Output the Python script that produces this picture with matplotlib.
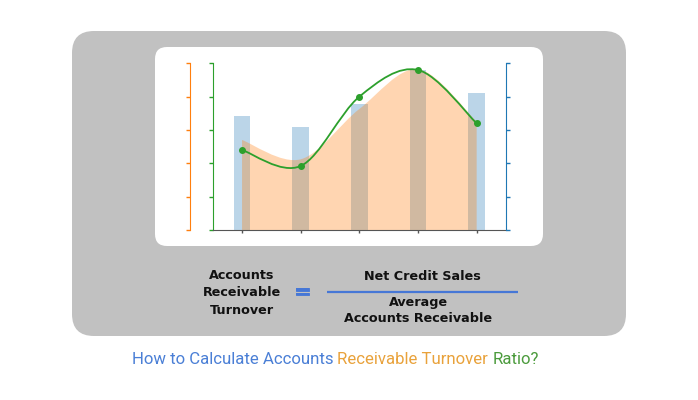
import matplotlib
matplotlib.use("Agg")
import matplotlib.pyplot as plt
import matplotlib.patheffects as pe
from matplotlib.path import Path
from matplotlib.patches import PathPatch, FancyBboxPatch

# data (y axis 0..5)
cats = [0, 1, 2, 3, 4]
bar_vals = [3.42, 3.08, 3.78, 4.80, 4.12]
line_vals = [2.40, 1.92, 4.00, 4.80, 3.20]
area_vals = [2.70, 2.12, 3.63, 4.82, 3.25]
y_ticks = [0, 1, 2, 3, 4, 5]

left_lines = ["Accounts", "Receivable", "Turnover"]
num_text = "Net Credit Sales"
den_lines = ["Average", "Accounts Receivable"]
title_parts = ["How to Calculate Accounts ", "Receivable Turnover ", "Ratio?"]
title_colors = ["#4a7fd6", "#e9a23b", "#4b9b3c"]


def smooth_verts(xs, ys):
    # catmull-rom through the points, as cubic bezier control points
    pts = list(zip(xs, ys))
    p = [pts[0]] + pts + [pts[-1]]
    verts = [pts[0]]
    for i in range(1, len(p) - 2):
        x0, y0 = p[i - 1]
        x1, y1 = p[i]
        x2, y2 = p[i + 1]
        x3, y3 = p[i + 2]
        verts += [(x1 + (x2 - x0) / 6, y1 + (y2 - y0) / 6),
                  (x2 - (x3 - x1) / 6, y2 - (y3 - y1) / 6),
                  (x2, y2)]
    return verts


fig = plt.figure(figsize=(6.98, 4.0), dpi=100)

# background in pixel coords
bg = fig.add_axes([0, 0, 1, 1])
bg.set_xlim(0, 698)
bg.set_ylim(400, 0)
bg.axis("off")
bg.add_patch(FancyBboxPatch((72, 31), 554, 305, boxstyle="round,pad=0,rounding_size=22",
                            fc="#c1c1c1", ec="none"))
bg.add_patch(FancyBboxPatch((155, 47), 388, 199, boxstyle="round,pad=0,rounding_size=12",
                            fc="white", ec="none"))

# chart
ax = fig.add_axes([212.7 / 698, 170 / 400, 293.3 / 698, 166.7 / 400])
ax.patch.set_alpha(0)
ax.bar(cats, bar_vals, width=0.28, color="#1f77b4", alpha=0.3, zorder=1)

sv = smooth_verts(cats, area_vals)
n3 = len(sv) - 1
fill_path = Path([(cats[0], 0)] + sv + [(cats[-1], 0), (cats[0], 0)],
                 [Path.MOVETO, Path.LINETO] + [Path.CURVE4] * n3 + [Path.LINETO, Path.CLOSEPOLY])
ax.add_patch(PathPatch(fill_path, fc="#ff7f0e", ec="none", alpha=0.32, zorder=2))

lv = smooth_verts(cats, line_vals)
line_path = Path(lv, [Path.MOVETO] + [Path.CURVE4] * (len(lv) - 1))
ax.add_patch(PathPatch(line_path, fc="none", ec="#2ca02c", lw=1.3, zorder=3))
ax.plot(cats, line_vals, "o", color="#2ca02c", ms=4, zorder=4)

ax.set_xlim(-0.5, 4.5)
ax.set_ylim(0, 5)
ax.set_xticks(cats)
ax.set_xticklabels([])
ax.set_yticks(y_ticks)
ax.set_yticklabels([])
ax.spines["top"].set_visible(False)
ax.spines["right"].set_visible(False)
ax.spines["left"].set_color("#2ca02c")
ax.spines["bottom"].set_color("#555555")
ax.tick_params(axis="y", colors="#2ca02c", length=3, width=1)
ax.tick_params(axis="x", colors="#555555", length=2, width=1)

axr = ax.twinx()
axr.set_ylim(0, 5)
axr.set_yticks(y_ticks)
axr.set_yticklabels([])
for s in ["top", "left", "bottom"]:
    axr.spines[s].set_visible(False)
axr.spines["right"].set_color("#1f77b4")
axr.tick_params(axis="y", colors="#1f77b4", length=3, width=1)

axo = ax.twinx()
axo.set_ylim(0, 5)
axo.set_yticks(y_ticks)
axo.set_yticklabels([])
axo.yaxis.set_ticks_position("left")
for s in ["top", "right", "bottom"]:
    axo.spines[s].set_visible(False)
axo.spines["left"].set_visible(True)
axo.spines["left"].set_position(("axes", -22.7 / 293.3))
axo.spines["left"].set_color("#ff7f0e")
axo.tick_params(axis="y", colors="#ff7f0e", length=3, width=1)

# formula
for txt, yb in zip(left_lines, [278.7, 296.3, 313.7]):
    bg.text(241.5, yb, txt, ha="center", va="baseline", fontsize=9.2,
            fontweight="bold", family="DejaVu Sans", color="#111111")
bg.text(303, 292.5, "=", ha="center", va="center", fontsize=15, fontweight="bold",
        family="DejaVu Sans", color="#4677d6",
        path_effects=[pe.withStroke(linewidth=0.6, foreground="#4677d6")])
bg.plot([327, 518], [291.8, 291.8], color="#4677d6", lw=1.6, solid_capstyle="butt")
bg.text(422, 280.3, num_text, ha="center", va="baseline", fontsize=9.2,
        fontweight="bold", family="DejaVu Sans", color="#111111")
for txt, yb in zip(den_lines, [306, 322]):
    bg.text(418.5, yb, txt, ha="center", va="baseline", fontsize=9.2,
            fontweight="bold", family="DejaVu Sans", color="#111111")

# multicolour title
t = bg.text(131.5, 364.3, title_parts[0], ha="left", va="baseline", fontsize=12.1,
            family="Roboto", color=title_colors[0])
for part, col in zip(title_parts[1:], title_colors[1:]):
    t = bg.annotate(part, xy=(1, 0), xycoords=t, ha="left", va="bottom",
                    fontsize=12.1, family="Roboto", color=col)

fig.savefig("out.png", dpi=100)
